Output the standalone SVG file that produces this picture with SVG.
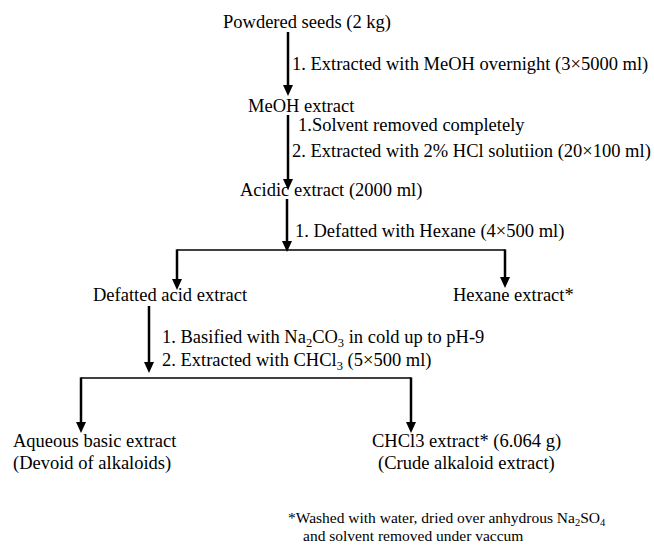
<svg xmlns="http://www.w3.org/2000/svg" width="654" height="545" viewBox="0 0 654 545">
<defs>
<style>
text{font-family:"Liberation Serif","Times New Roman",serif;font-size:18.5px;fill:#000}
.fn{font-size:15.5px}
.v{stroke:#000;stroke-width:2.5;fill:none}
.h{stroke:#000;stroke-width:1.3;fill:none}
.hd{fill:#000}
</style>
</defs>
<rect width="654" height="545" fill="#fff"/>
<g id="connectors">
<line class="v" x1="288" y1="32" x2="288" y2="86"/>
<path class="hd" d="M283,85 L293,85 L288,96 Z"/>
<line class="v" x1="288" y1="115" x2="288" y2="180"/>
<path class="hd" d="M283,179 L293,179 L288,190 Z"/>
<line class="v" x1="287" y1="199" x2="287" y2="242"/>
<path class="hd" d="M282,241 L292,241 L287,252 Z"/>
<line class="h" x1="177" y1="250" x2="505" y2="250"/>
<line class="v" x1="177" y1="249.4" x2="177" y2="280"/>
<path class="hd" d="M172,279 L182,279 L177,290 Z"/>
<line class="v" x1="505" y1="249.4" x2="505" y2="278"/>
<path class="hd" d="M500,277 L510,277 L505,288 Z"/>
<line class="v" x1="149" y1="306" x2="149" y2="363"/>
<path class="hd" d="M144,362 L154,362 L149,373 Z"/>
<line class="h" x1="81" y1="378" x2="411" y2="378"/>
<line class="v" x1="81" y1="377.4" x2="81" y2="423"/>
<path class="hd" d="M76,422 L86,422 L81,433 Z"/>
<line class="v" x1="411" y1="377.4" x2="411" y2="423"/>
<path class="hd" d="M406,422 L416,422 L411,433 Z"/>
</g>
<g id="n-seeds"><text x="223" y="28">Powdered seeds (2 kg)</text></g>
<g id="l1"><text x="292" y="70">1. Extracted with MeOH overnight (3×5000 ml)</text></g>
<g id="n-meoh"><text x="248" y="112">MeOH extract</text></g>
<g id="l2"><text x="298" y="131">1.Solvent removed completely</text><text x="292" y="157">2. Extracted with 2% HCl solutiion (20×100 ml)</text></g>
<g id="n-acidic"><text x="240" y="196">Acidic extract (2000 ml)</text></g>
<g id="l3"><text x="295" y="237">1. Defatted with Hexane (4×500 ml)</text></g>
<g id="n-defatted"><text x="93" y="301">Defatted acid extract</text></g>
<g id="n-hexane"><text x="453" y="301">Hexane extract*</text></g>
<g id="l4"><text x="162" y="343">1. Basified with Na<tspan font-size="12.5" dy="4">2</tspan><tspan dy="-4">CO</tspan><tspan font-size="12.5" dy="4">3</tspan><tspan dy="-4"> in cold up to pH-9</tspan></text><text x="162" y="366">2. Extracted with CHCl<tspan font-size="12.5" dy="4">3</tspan><tspan dy="-4"> (5×500 ml)</tspan></text></g>
<g id="n-aqueous"><text x="13" y="447">Aqueous basic extract</text><text x="13" y="469">(Devoid of alkaloids)</text></g>
<g id="n-chcl3"><text x="372" y="447">CHCl3 extract* (6.064 g)</text><text x="378" y="469">(Crude alkaloid extract)</text></g>
<g id="footnote"><text class="fn" x="288" y="523">*Washed with water, dried over anhydrous Na<tspan font-size="10.5" dy="3">2</tspan><tspan dy="-3">SO</tspan><tspan font-size="10.5" dy="3">4</tspan></text><text class="fn" x="303" y="541">and solvent removed under vaccum</text></g>
</svg>
